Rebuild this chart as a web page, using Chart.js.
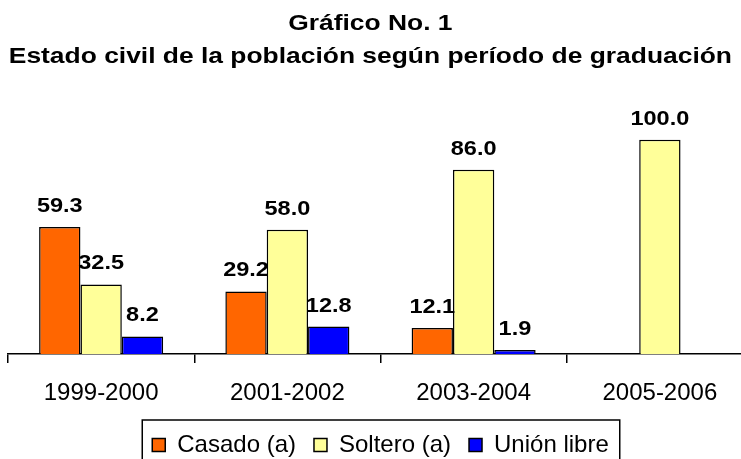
<!DOCTYPE html>
<html>
<head>
<meta charset="utf-8">
<script src="https://cdn.jsdelivr.net/npm/chart.js@4/dist/chart.umd.min.js"></script>
<style>
  body { margin: 0; overflow: hidden; background: #fff; }
  #wrap { position: relative; width: 760px; height: 459px; }
  #title {
    position: absolute; left: 0; top: 6px; width: 741px;
    text-align: center; font: bold 22px "Liberation Sans", Arial, sans-serif;
    line-height: 33px; color: #000;
    transform: scaleX(1.2); transform-origin: 371px 0;
  }
</style>
</head>
<body>
<div id="wrap">
  <canvas id="chart" width="760" height="459"></canvas>
  <div id="title">Gráfico No. 1<br>Estado civil de la población según período de graduación</div>
</div>
<script>
// data
var categories = ['1999-2000', '2001-2002', '2003-2004', '2005-2006'];
var casado = [59.3, 29.2, 12.1, null];
var soltero = [32.5, 58.0, 86.0, 100.0];
var unionLibre = [8.2, 12.8, 1.9, null];

// value labels above each bar
var valueLabels = {
    id: 'valueLabels',
    afterDatasetsDraw: function (chart) {
        var ctx = chart.ctx;
        chart.data.datasets.forEach(function (ds, i) {
            var meta = chart.getDatasetMeta(i);
            meta.data.forEach(function (bar, j) {
                var v = ds.data[j];
                if (v === null) return;
                ctx.save();
                ctx.font = 'bold 21px "Liberation Sans", Arial, sans-serif';
                ctx.fillStyle = '#000';
                ctx.textAlign = 'center';
                ctx.textBaseline = 'alphabetic';
                ctx.translate(bar.x, bar.y - 15);
                ctx.scale(1.12, 1);
                ctx.fillText(v.toFixed(1), 0, 0);
                ctx.restore();
            });
        });
    }
};

// frame round the legend
var legendFrame = {
    id: 'legendFrame',
    afterDraw: function (chart) {
        var boxes = chart.legend.legendHitBoxes;
        if (!boxes || !boxes.length) return;
        var first = boxes[0], last = boxes[boxes.length - 1];
        var left = first.left - 10;
        var right = last.left + last.width + 11;
        var top = first.top + first.height / 2 - 25;
        var ctx = chart.ctx;
        ctx.save();
        ctx.strokeStyle = '#000';
        ctx.lineWidth = 1.5;
        ctx.strokeRect(left, top, right - left, 80);
        ctx.restore();
    }
};

new Chart(document.getElementById('chart'), {
    type: 'bar',
    data: {
        labels: categories,
        datasets: [
            { label: 'Casado (a)', data: casado, backgroundColor: '#FF6600', borderColor: '#000', borderWidth: 1.5 },
            { label: 'Soltero (a)', data: soltero, backgroundColor: '#FFFF99', borderColor: '#000', borderWidth: 1.5 },
            { label: 'Unión libre', data: unionLibre, backgroundColor: '#0000FF', borderColor: '#000', borderWidth: 1.5 }
        ]
    },
    options: {
        responsive: false,
        devicePixelRatio: 1,
        animation: false,
        layout: { padding: { top: 97, left: 8, right: 7, bottom: -8 } },
        datasets: { bar: { categoryPercentage: 0.666, barPercentage: 1.0 } },
        scales: {
            x: {
                afterFit: function (scale) { scale.height = 61; },
                grid: { display: true, drawOnChartArea: false, drawTicks: true, tickLength: 9, color: '#000', lineWidth: 1.5 },
                border: { display: true, color: '#000', width: 1.5 },
                ticks: { color: '#000', padding: 16, font: { size: 24, family: '"Liberation Sans", Arial, sans-serif' } }
            },
            y: { display: false, min: 0, max: 120 }
        },
        plugins: {
            title: { display: false },
            tooltip: { enabled: false },
            legend: {
                position: 'bottom',
                labels: {
                    color: '#000',
                    boxWidth: 13,
                    boxHeight: 13,
                    padding: 18,
                    font: { size: 24, family: '"Liberation Sans", Arial, sans-serif' }
                }
            }
        }
    },
    plugins: [valueLabels, legendFrame]
});
</script>
</body>
</html>
